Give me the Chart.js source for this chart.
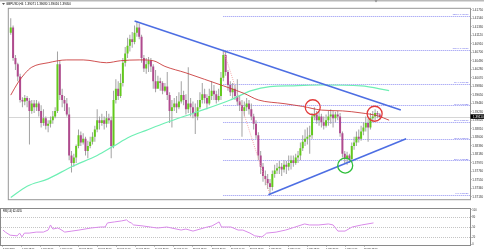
<!DOCTYPE html>
<html><head><meta charset="utf-8">
<script src="https://cdn.jsdelivr.net/npm/chart.js@4.4.0/dist/chart.umd.min.js"></script>
<style>
html,body{margin:0;padding:0;background:#fff;overflow:hidden;}
#wrap{position:relative;width:484px;height:252px;background:#fff;}
#c1{position:absolute;left:0;top:0;}
#c2{position:absolute;left:0;top:208px;}
</style></head><body>
<div id="wrap"><canvas id="c1" width="484" height="208"></canvas><canvas id="c2" width="484" height="44"></canvas></div>
<script>
const symbolTitle = 'GBPUSD,H4  1.39071 1.39080 1.39016 1.39050';
const rsiTitle = 'RSI(14) 62.4055';
const dateLabels = ['5 Feb 2018','6 Feb 12:00','7 Feb 20:00','9 Feb 04:00','12 Feb 12:00','13 Feb 20:00','15 Feb 04:00','16 Feb 12:00','19 Feb 20:00','21 Feb 04:00','22 Feb 12:00','23 Feb 20:00','27 Feb 04:00','28 Feb 12:00','1 Mar 20:00','5 Mar 04:00','6 Mar 12:00','7 Mar 20:00','9 Mar 04:00','12 Mar 12:00'];
const priceTicks = [1.41750,1.41540,1.41330,1.41120,1.40910,1.40700,1.40490,1.40280,1.40070,1.39860,1.39650,1.39440,1.39230,1.39020,1.38810,1.38600,1.38390,1.38180,1.37970,1.37760,1.37550,1.37340,1.37130];

const firstOpen = 1.4118;
const closes = [1.4131,1.4056,1.4040,1.4010,1.3952,1.3948,1.3957,1.3950,1.3925,1.3943,
1.3934,1.3943,1.3925,1.3895,1.3907,1.3888,1.3893,1.3902,1.3911,1.3925,
1.4040,1.3964,1.3952,1.3943,1.3916,1.3815,1.3796,1.3810,1.3838,1.3865,
1.3847,1.3856,1.3826,1.3838,1.3849,1.3861,1.3879,1.3902,1.3895,1.3902,
1.3893,1.3907,1.3902,1.3838,1.3952,1.3980,1.3962,1.3994,1.4044,1.4067,
1.4086,1.4102,1.4095,1.4118,1.4131,1.4108,1.4056,1.4030,1.4040,1.4049,
1.4035,1.3998,1.3980,1.3998,1.3994,1.3975,1.3985,1.3964,1.3925,1.3934,
1.3943,1.3934,1.3948,1.3964,1.3952,1.3929,1.3943,1.3934,1.3920,1.3911,
1.3934,1.3952,1.3966,1.3957,1.3943,1.3962,1.3975,1.3966,1.3952,1.3962,
1.4007,1.4063,1.4021,1.3989,1.3971,1.3980,1.3962,1.3948,1.3939,1.3925,
1.3934,1.3943,1.3929,1.3911,1.3893,1.3865,1.3815,1.3787,1.3764,1.3757,
1.3746,1.3737,1.3769,1.3778,1.3783,1.3787,1.3780,1.3792,1.3787,1.3796,
1.3803,1.3796,1.3810,1.3815,1.3833,1.3849,1.3856,1.3861,1.3865,1.3911,
1.3916,1.3902,1.3911,1.3897,1.3888,1.3902,1.3911,1.3916,1.3907,1.3916,
1.3911,1.3870,1.3819,1.3806,1.3815,1.3806,1.3838,1.3847,1.3861,1.3856,
1.3874,1.3884,1.3895,1.3884,1.3907,1.3911,1.3920,1.3916,1.3911];
const highs = [1.4154,1.4136,1.4063,1.4044,1.4017,1.3959,1.3964,1.3962,1.3957,1.3952,
1.3952,1.3952,1.3948,1.3939,1.3929,1.3911,1.3902,1.3911,1.3925,1.3934,
1.4072,1.4049,1.3980,1.3962,1.3957,1.3934,1.3826,1.3819,1.3842,1.3879,
1.3874,1.3870,1.3861,1.3851,1.3861,1.3872,1.3888,1.3929,1.3911,1.3918,
1.3911,1.3925,1.3918,1.3911,1.3975,1.4003,1.3998,1.4017,1.4056,1.4083,
1.4106,1.4113,1.4120,1.4136,1.4147,1.4141,1.4113,1.4063,1.4056,1.4058,
1.4056,1.4040,1.4026,1.4012,1.4007,1.3998,1.3994,1.4021,1.3971,1.3952,
1.3957,1.3962,1.3971,1.3998,1.3975,1.3966,1.4033,1.3957,1.3948,1.3943,
1.3952,1.3971,1.3994,1.3980,1.3966,1.3980,1.3998,1.3989,1.3975,1.3980,
1.4021,1.4076,1.4072,1.4026,1.3998,1.3994,1.3989,1.4003,1.3962,1.3952,
1.3948,1.3957,1.3952,1.3943,1.3918,1.3902,1.3872,1.3826,1.3796,1.3778,
1.3769,1.3757,1.3778,1.3792,1.3796,1.3801,1.3796,1.3803,1.3801,1.3815,
1.3815,1.3815,1.3819,1.3826,1.3847,1.3865,1.3879,1.3884,1.3888,1.3920,
1.3934,1.3925,1.3925,1.3918,1.3911,1.3916,1.3925,1.3929,1.3925,1.3923,
1.3925,1.3920,1.3874,1.3826,1.3824,1.3819,1.3847,1.3861,1.3874,1.3879,
1.3888,1.3897,1.3911,1.3907,1.3920,1.3925,1.3929,1.3925,1.3920];
const lows = [1.4113,1.4049,1.4026,1.3998,1.3946,1.3934,1.3939,1.3934,1.3842,1.3918,
1.3920,1.3925,1.3911,1.3884,1.3888,1.3879,1.3872,1.3884,1.3893,1.3907,
1.3920,1.3952,1.3934,1.3925,1.3911,1.3803,1.3773,1.3787,1.3796,1.3833,
1.3838,1.3842,1.3815,1.3808,1.3833,1.3842,1.3849,1.3872,1.3879,1.3888,
1.3879,1.3884,1.3893,1.3808,1.3833,1.3943,1.3952,1.3957,1.3985,1.4035,
1.4056,1.4072,1.4081,1.4090,1.4108,1.4102,1.4044,1.4021,1.4017,1.4021,
1.4021,1.3980,1.3971,1.3982,1.3975,1.3966,1.3971,1.3952,1.3895,1.3884,
1.3925,1.3920,1.3929,1.3943,1.3939,1.3916,1.3920,1.3911,1.3907,1.3868,
1.3902,1.3929,1.3943,1.3943,1.3929,1.3939,1.3952,1.3952,1.3943,1.3948,
1.3952,1.3998,1.4012,1.3975,1.3962,1.3957,1.3952,1.3939,1.3925,1.3861,
1.3911,1.3925,1.3916,1.3902,1.3879,1.3856,1.3803,1.3769,1.3750,1.3741,
1.3732,1.3718,1.3728,1.3760,1.3769,1.3769,1.3764,1.3773,1.3769,1.3778,
1.3780,1.3787,1.3792,1.3796,1.3803,1.3826,1.3838,1.3842,1.3819,1.3856,
1.3902,1.3893,1.3888,1.3884,1.3879,1.3884,1.3888,1.3893,1.3884,1.3897,
1.3902,1.3861,1.3810,1.3796,1.3792,1.3796,1.3801,1.3829,1.3838,1.3847,
1.3851,1.3865,1.3874,1.3849,1.3879,1.3897,1.3902,1.3907,1.3904];

const redMaIdx = [0,3,6,9,16,24,31,41,47,55,61,66,75,83,91,100,106,117,125,133,142,150,157,162];
const redMaVal = [1.3964,1.3994,1.4017,1.4033,1.4044,1.4051,1.4051,1.4044,1.4049,1.4051,1.4049,1.4035,1.4019,1.4003,1.3987,1.3968,1.3952,1.3943,1.3936,1.3927,1.3925,1.3920,1.3913,1.3902];
const greenMaIdx = [0,7,16,26,37,44,51,58,66,80,94,103,111,121,133,150,162];
const greenMaVal = [1.3711,1.3739,1.3757,1.3787,1.3815,1.3838,1.3861,1.3877,1.3895,1.3923,1.3952,1.3975,1.3985,1.3987,1.3989,1.3987,1.3975];

const fibRatios = [123.6,100.0,76.4,61.8,50.0,38.2,23.6,0.0];
const fibPrices = [1.41600,1.40760,1.39915,1.39388,1.38970,1.38548,1.38025,1.37180];
const fibStartIdx = 91;
const fibDiagIdx = [91,111];
const fibDiagVal = [1.4076,1.3718];

const upperTrendIdx = [53,167];
const upperTrendVal = [1.4147,1.3927];
const lowerTrendIdx = [110.3,169.3];
const lowerTrendVal = [1.3718,1.3856];
const redCircleIdx = [129.3,155.8];
const redCircleVal = [1.3934,1.3918];
const greenCircleIdx = [143.2];
const greenCircleVal = [1.3790];

const rsiIdx = [0,1,3,6,7,8,9,11,14,17,19,20,21,23,24,26,29,32,37,41,43,44,47,50,52,53,54,55,59,62,65,69,75,77,80,86,88,91,92,96,99,101,104,106,109,110,111,115,119,123,127,129,133,137,139,141,144,147,151,156];
const rsiVal = [41,35,26,24,32,21,32,32,35,35,41,56,44,47,44,35,38,41,47,50,50,62,65,68,71,65,62,56,53,50,47,50,41,44,38,50,53,65,50,50,41,41,32,24,21,26,32,35,41,50,59,56,56,59,56,38,38,50,56,62];
const rsiTicks = [0,20,50,80,100];
const rsiLevels = [20,50,80];

// ---- derived tables ----
const opens = closes.map((c,i)=> i===0 ? firstOpen : closes[i-1]);
const idxs = closes.map((_,i)=>i);
const pts = (xs, ys) => xs.map((v,i)=>({x:v, y:ys[i]}));
const BULL = '#62c91c', BEAR = '#b04a8e';
const bodyColors = idxs.map(i => closes[i] >= opens[i] ? BULL : BEAR);

const X_MIN = -0.84, X_MAX = 196.63;
const Y_MIN = 1.37068, Y_MAX = 1.41773;
const FONT = '"Liberation Sans", Arial, sans-serif';
Chart.defaults.font.family = FONT;

const mainDeco = {
  id:'mainDeco',
  beforeDatasetsDraw(chart){
    const {ctx, chartArea:a, scales:{x,y}} = chart;
    ctx.save();
    ctx.beginPath(); ctx.rect(a.left,a.top,a.right-a.left,a.bottom-a.top); ctx.clip();
    const last = closes[closes.length-1];
    const yb = Math.round(y.getPixelForValue(last))+0.5;
    ctx.strokeStyle='#d6d6d6'; ctx.lineWidth=1;
    ctx.beginPath(); ctx.moveTo(a.left,yb); ctx.lineTo(a.right,yb); ctx.stroke();
    const xs = x.getPixelForValue(fibStartIdx);
    ctx.setLineDash([1,1]); ctx.strokeStyle='#8f8ff2';
    fibPrices.forEach(p=>{ const yy=Math.round(y.getPixelForValue(p))+0.5; ctx.beginPath(); ctx.moveTo(xs,yy); ctx.lineTo(a.right,yy); ctx.stroke(); });
    ctx.setLineDash([]);
    ctx.fillStyle='#5b5be6'; ctx.font='2.5px '+FONT; ctx.textAlign='right'; ctx.textBaseline='bottom';
    fibPrices.forEach((p,i)=>{ const yy=y.getPixelForValue(p); ctx.fillText(fibRatios[i].toFixed(1)+' '+p.toFixed(5), a.right-1.5, yy-0.2); });
    ctx.restore();
  },
  afterDraw(chart){
    const {ctx, chartArea:a, scales:{y}} = chart;
    ctx.save();
    ctx.fillStyle='#b9b9b9'; ctx.fillRect(0,0,484,1.5);
    ctx.strokeStyle='#979797'; ctx.lineWidth=1;
    ctx.strokeRect(a.left-0.5, a.top-0.5, a.right-a.left+1, a.bottom-a.top+1);
    // shift marker
    ctx.fillStyle='#8c8c8c'; ctx.beginPath(); ctx.moveTo(374.5,0.3); ctx.lineTo(377.5,0.3); ctx.lineTo(376,2.6); ctx.closePath(); ctx.fill();
    // header
    ctx.fillStyle='#555'; ctx.beginPath(); ctx.moveTo(2,3); ctx.lineTo(5,3); ctx.lineTo(3.5,5); ctx.closePath(); ctx.fill();
    ctx.fillStyle='#000'; ctx.font='3px '+FONT; ctx.textAlign='left'; ctx.textBaseline='top';
    ctx.fillText(symbolTitle, 6, 2.6);
    // current price box
    const last = closes[closes.length-1];
    const yc = y.getPixelForValue(last);
    ctx.fillStyle='#000'; ctx.fillRect(a.right+0.5, yc-2.3, 484-a.right, 4.6);
    ctx.fillStyle='#fff'; ctx.font='3px '+FONT; ctx.textBaseline='middle';
    ctx.fillText(last.toFixed(5), a.right+3, yc+0.2);
    ctx.restore();
  }
};

new Chart(document.getElementById('c1'), {
  type:'line',
  data:{datasets:[
    {data:pts(redCircleIdx, redCircleVal), showLine:false, pointRadius:7.5, pointHoverRadius:7.5, pointBorderColor:'#e23a3a', pointBackgroundColor:'rgba(0,0,0,0)', pointBorderWidth:1.3, order:0},
    {data:pts(greenCircleIdx, greenCircleVal), showLine:false, pointRadius:7.5, pointHoverRadius:7.5, pointBorderColor:'#2fbf3a', pointBackgroundColor:'rgba(0,0,0,0)', pointBorderWidth:1.3, order:0},
    {data:pts(upperTrendIdx, upperTrendVal), borderColor:'#4d6ee3', borderWidth:1.6, pointRadius:0, order:1},
    {data:pts(lowerTrendIdx, lowerTrendVal), borderColor:'#4d6ee3', borderWidth:1.6, pointRadius:0, order:1},
    {data:pts(fibDiagIdx, fibDiagVal), borderColor:'#f2a0a0', borderWidth:0.9, borderDash:[1,1.2], pointRadius:0, order:2},
    {data:pts(redMaIdx, redMaVal), borderColor:'rgba(200,50,50,0.85)', borderWidth:1, pointRadius:0, cubicInterpolationMode:'monotone', order:2},
    {data:pts(greenMaIdx, greenMaVal), borderColor:'#6eefb4', borderWidth:1.2, pointRadius:0, cubicInterpolationMode:'monotone', order:2},
    {type:'bar', data:idxs.map(i=>({x:i, y:[opens[i], closes[i]]})), backgroundColor:bodyColors, barThickness:2, grouped:false, minBarLength:0.8, inflateAmount:0, borderWidth:0, order:5},
    {type:'bar', data:idxs.map(i=>({x:i, y:[lows[i], highs[i]]})), backgroundColor:'#a2a2a2', barThickness:1, grouped:false, inflateAmount:0, borderWidth:0, order:6}
  ]},
  options:{
    responsive:false, animation:false, devicePixelRatio:1, events:[],
    layout:{padding:{left:1, top:2, right:0, bottom:1}},
    plugins:{legend:{display:false}, tooltip:{enabled:false}},
    scales:{
      x:{type:'linear', min:X_MIN, max:X_MAX, offset:false, display:false},
      y:{type:'linear', position:'right', min:Y_MIN, max:Y_MAX,
        afterBuildTicks(s){ s.ticks = priceTicks.map(v=>({value:v})); },
        afterFit(s){ s.width = 14; s.paddingTop = 0; s.paddingBottom = 0; },
        ticks:{autoSkip:false, font:{size:3}, color:'#333', padding:0.8, callback:v=>Number(v).toFixed(5)},
        grid:{drawOnChartArea:false, tickLength:1.5, color:'#888'},
        border:{color:'#888'}
      }
    }
  },
  plugins:[mainDeco]
});

const rsiDeco = {
  id:'rsiDeco',
  beforeDatasetsDraw(chart){
    const {ctx, chartArea:a, scales:{y}} = chart;
    ctx.save();
    ctx.strokeStyle='#c4c4c4'; ctx.lineWidth=1; ctx.setLineDash([1,1]);
    rsiLevels.forEach(v=>{ const yy=Math.round(y.getPixelForValue(v))+0.5; ctx.beginPath(); ctx.moveTo(a.left,yy); ctx.lineTo(a.right,yy); ctx.stroke(); });
    ctx.restore();
  },
  afterDraw(chart){
    const {ctx, chartArea:a} = chart;
    ctx.save();
    ctx.strokeStyle='#8a8a8a'; ctx.lineWidth=1;
    ctx.strokeRect(a.left-0.5, a.top-0.5, a.right-a.left+1, a.bottom-a.top+1);
    ctx.fillStyle='#000'; ctx.font='2.6px '+FONT; ctx.textAlign='left'; ctx.textBaseline='top';
    ctx.fillText(rsiTitle, 3, a.top+0.8);
    ctx.restore();
  }
};

new Chart(document.getElementById('c2'), {
  type:'line',
  data:{datasets:[{data:pts(rsiIdx, rsiVal), borderColor:'#d98be9', borderWidth:1, pointRadius:0, tension:0}]},
  options:{
    responsive:false, animation:false, devicePixelRatio:1, events:[],
    layout:{padding:{left:1, top:1, right:0, bottom:0}},
    plugins:{legend:{display:false}, tooltip:{enabled:false}},
    scales:{
      x:{type:'linear', min:X_MIN, max:X_MAX, offset:false, position:'bottom',
        afterBuildTicks(s){ s.ticks = dateLabels.map((_,k)=>({value:k*8})); },
        afterFit(s){ s.height = 7; s.paddingLeft = 0; s.paddingRight = 0; },
        ticks:{autoSkip:false, maxRotation:0, minRotation:0, align:'start', font:{size:2.3}, color:'#333', padding:0.6, callback:(v,i)=>dateLabels[i]},
        grid:{drawOnChartArea:false, tickLength:1.5, color:'#888'},
        border:{color:'#888'}
      },
      y:{type:'linear', position:'right', min:-2.94, max:102.94,
        afterBuildTicks(s){ s.ticks = rsiTicks.map(v=>({value:v})); },
        afterFit(s){ s.width = 14; s.paddingTop = 0; s.paddingBottom = 0; },
        ticks:{autoSkip:false, font:{size:2.6}, color:'#333', padding:0.8, callback:v=>String(v)},
        grid:{drawOnChartArea:false, tickLength:1.5, color:'#888'},
        border:{color:'#888'}
      }
    }
  },
  plugins:[rsiDeco]
});
</script>
</body></html>
